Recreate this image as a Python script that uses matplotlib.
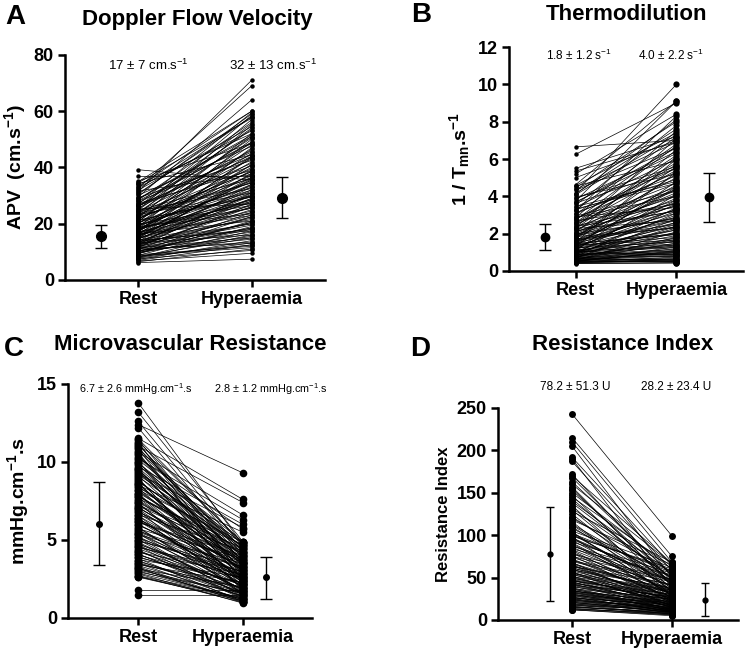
import matplotlib
matplotlib.use("Agg")
import matplotlib.pyplot as plt
import numpy as np

plt.rcParams['font.family'] = ['Liberation Sans', 'DejaVu Sans']
plt.rcParams['mathtext.default'] = 'regular'

# A: Doppler flow velocity (cm/s)
apv_rest = [6.2, 6.5, 7.0, 7.3, 7.8, 8.1, 8.4, 8.8, 9.0, 9.3,
            9.6, 10.0, 10.2, 10.5, 10.8, 11.0, 11.3, 11.5, 11.8, 12.0,
            12.2, 12.5, 12.7, 13.0, 13.2, 13.4, 13.7, 14.0, 14.2, 14.5,
            14.7, 15.0, 15.2, 15.4, 15.7, 16.0, 16.2, 16.5, 16.8, 17.0,
            17.3, 17.5, 17.8, 18.0, 18.3, 18.6, 18.9, 19.2, 19.5, 19.8,
            20.0, 20.4, 20.8, 21.1, 21.5, 21.8, 22.2, 22.5, 23.0, 23.4,
            23.8, 24.2, 24.7, 25.1, 25.6, 26.0, 26.5, 27.0, 27.4, 28.0,
            28.5, 29.0, 29.6, 30.2, 30.8, 31.4, 32.0, 32.7, 33.3, 34.0,
            34.6, 35.2, 37.0, 39.2, 7.6, 9.9, 12.9, 15.9, 19.0, 22.8,
            11.6, 14.9, 17.6, 20.6, 24.5, 13.5, 16.6, 10.6, 18.4, 26.8,
            6.8, 7.9, 8.6, 9.4, 10.3, 11.1, 11.9, 12.6, 13.3, 14.1,
            14.8, 15.5, 16.3, 17.1, 17.9, 18.7, 19.6, 20.2, 21.3, 22.0,
            22.9, 23.6, 24.4, 25.3, 26.2, 27.2, 28.2, 29.3, 30.5, 31.7,
            33.0, 34.3, 35.0, 8.3, 9.7, 11.4, 12.3, 13.8, 15.1, 16.4,
            17.2, 18.1, 19.4, 20.9, 21.9, 23.2, 24.9, 26.3, 28.8, 32.4]
apv_hyp = [7.4, 11.0, 12.5, 14.0, 13.2, 17.5, 15.0, 19.0, 12.0, 21.0,
           16.5, 24.0, 18.0, 14.5, 27.0, 20.5, 17.0, 31.0, 22.5, 19.5,
           25.0, 34.0, 23.0, 28.0, 16.0, 30.5, 38.0, 26.0, 21.5, 33.0,
           29.0, 36.0, 24.5, 41.0, 27.5, 32.0, 44.0, 30.0, 35.0, 25.5,
           39.0, 47.0, 31.5, 37.5, 28.5, 42.0, 50.0, 33.5, 40.0, 26.5,
           45.0, 36.5, 52.0, 30.0, 48.0, 38.5, 55.0, 34.5, 43.0, 57.0,
           41.5, 50.5, 36.0, 58.5, 46.0, 53.5, 40.5, 59.5, 49.0, 44.5,
           56.0, 51.5, 64.0, 47.5, 58.0, 71.0, 54.5, 69.0, 60.0, 52.0,
           57.5, 48.5, 37.0, 35.5, 10.5, 15.5, 22.0, 28.5, 23.5, 39.5,
           18.5, 26.5, 34.0, 29.5, 32.5, 20.0, 31.0, 13.5, 35.5, 43.5,
           9.5, 16.0, 11.5, 22.5, 18.5, 13.0, 26.0, 20.0, 30.0, 17.5,
           24.0, 35.5, 21.0, 28.0, 41.0, 25.5, 33.0, 46.5, 29.5, 38.5,
           51.0, 34.5, 44.0, 27.0, 55.5, 39.0, 48.5, 42.5, 59.0, 37.5,
           53.0, 44.5, 60.0, 12.5, 20.5, 15.0, 29.0, 18.0, 36.5, 23.0,
           43.5, 27.5, 32.0, 49.0, 37.0, 31.0, 54.0, 45.5, 51.0, 58.0]

# B: thermodilution 1/Tmn (1/s)
tmn_rest = [0.40, 0.42, 0.45, 0.48, 0.50, 0.52, 0.55, 0.58, 0.60, 0.63,
            0.65, 0.68, 0.70, 0.73, 0.76, 0.80, 0.83, 0.86, 0.90, 0.93,
            0.96, 1.00, 1.03, 1.07, 1.10, 1.14, 1.18, 1.22, 1.26, 1.30,
            1.34, 1.38, 1.42, 1.46, 1.50, 1.55, 1.60, 1.65, 1.70, 1.75,
            1.80, 1.86, 1.92, 1.98, 2.04, 2.10, 2.17, 2.24, 2.31, 2.38,
            2.45, 2.52, 2.60, 2.68, 2.76, 2.85, 2.94, 3.03, 3.12, 3.22,
            3.32, 3.42, 3.52, 3.63, 3.74, 3.85, 3.96, 4.08, 4.20, 4.32,
            4.45, 4.55, 4.62, 5.00, 5.20, 5.35, 5.50, 6.25, 6.65, 0.47,
            0.56, 0.66, 0.78, 0.88, 0.98, 1.12, 1.28, 1.44, 1.62, 1.84,
            2.06, 2.28, 2.56, 2.90, 3.28, 3.70, 4.15, 1.05, 0.72, 0.53,
            0.41, 0.44, 0.49, 0.54, 0.59, 0.62, 0.67, 0.71, 0.75, 0.81,
            0.85, 0.92, 0.97, 1.02, 1.09, 1.16, 1.24, 1.33, 1.40, 1.48,
            1.57, 1.67, 1.78, 1.89, 2.00, 2.13, 2.27, 2.41, 2.58, 2.73,
            2.88, 3.05, 3.25, 3.45, 3.66, 3.90, 4.12, 4.38, 4.58, 0.51,
            0.61, 0.74, 0.87, 1.01, 1.20, 1.39, 1.58, 1.95, 2.35, 2.80]
tmn_hyp = [0.42, 0.55, 0.60, 0.75, 1.30, 0.65, 1.00, 2.10, 0.80, 1.50,
           1.20, 2.80, 0.95, 1.70, 3.40, 1.10, 2.30, 1.40, 4.10, 1.90,
           2.60, 1.25, 3.00, 2.00, 4.80, 1.60, 2.40, 3.60, 2.20, 5.30,
           2.90, 1.80, 3.30, 4.40, 2.70, 6.00, 3.10, 3.90, 2.50, 4.60,
           5.60, 3.50, 4.20, 2.80, 6.50, 3.80, 5.00, 4.00, 7.10, 3.20,
           5.40, 4.50, 6.20, 3.60, 5.80, 7.50, 4.30, 6.80, 5.10, 8.30,
           4.70, 6.00, 7.80, 5.50, 9.10, 6.40, 5.20, 7.30, 10.00, 6.60,
           8.00, 5.90, 9.10, 7.00, 8.40, 6.90, 7.20, 9.00, 7.00, 0.55,
           0.70, 0.90, 1.60, 1.15, 2.50, 1.45, 3.20, 2.00, 3.70, 2.30,
           4.40, 2.70, 5.70, 3.40, 4.90, 6.30, 7.60, 0.85, 0.50, 1.05,
           0.45, 0.65, 1.10, 0.50, 1.80, 0.85, 0.60, 2.40, 1.00, 1.35,
           3.10, 0.90, 1.75, 2.20, 1.30, 3.80, 1.55, 2.60, 4.50, 1.95,
           3.30, 2.35, 5.20, 2.85, 4.10, 3.25, 6.10, 3.60, 4.70, 6.70,
           4.00, 5.50, 7.20, 4.80, 6.60, 5.60, 8.10, 6.90, 7.40, 0.48,
           0.58, 0.78, 1.05, 1.40, 2.05, 1.65, 2.75, 3.50, 4.30, 5.30]

# C: microvascular resistance (mmHg.cm-1.s)
mvr_rest = [1.50, 1.80, 2.62, 2.71, 2.83, 2.95, 3.02, 3.14, 3.21, 3.36,
            3.42, 3.51, 3.63, 3.74, 3.82, 3.93, 4.04, 4.12, 4.23, 4.31,
            4.44, 4.52, 4.61, 4.73, 4.85, 4.92, 5.03, 5.14, 5.22, 5.35,
            5.41, 5.53, 5.64, 5.72, 5.81, 5.95, 6.02, 6.13, 6.24, 6.32,
            6.41, 6.55, 6.63, 6.72, 6.84, 6.91, 7.05, 7.12, 7.23, 7.34,
            7.42, 7.51, 7.65, 7.73, 7.82, 7.94, 8.03, 8.15, 8.21, 8.33,
            8.45, 8.52, 8.61, 8.74, 8.83, 8.92, 9.04, 9.13, 9.25, 9.32,
            9.41, 9.55, 9.63, 9.71, 9.84, 9.93, 10.02, 10.14, 10.22, 10.35,
            10.43, 10.52, 10.64, 10.71, 10.85, 10.93, 11.02, 11.12, 11.24, 11.31,
            11.42, 11.53, 12.20, 12.40, 12.60, 13.20, 13.80, 2.65, 3.55, 4.25,
            2.68, 2.88, 3.08, 3.28, 3.48, 3.68, 3.88, 4.08, 4.38, 4.58,
            4.78, 4.98, 5.18, 5.38, 5.58, 5.78, 5.98, 6.18, 6.38, 6.58,
            6.78, 6.98, 7.18, 7.38, 7.58, 7.78, 7.98, 8.18, 8.38, 8.58,
            8.78, 8.98, 9.18, 9.38, 9.58, 9.78, 9.98, 10.28, 10.58, 10.88,
            11.18, 11.48, 3.18, 4.68, 5.48, 6.28, 7.08, 7.88, 8.68, 9.48]
mvr_hyp = [1.50, 1.80, 1.10, 1.30, 0.95, 1.60, 1.20, 2.00, 1.00, 1.40,
           2.30, 1.15, 1.70, 2.60, 1.05, 1.90, 2.20, 1.35, 2.80, 1.55,
           2.10, 3.00, 1.25, 2.50, 1.85, 3.30, 1.45, 2.70, 2.05, 3.50,
           1.65, 2.90, 2.35, 3.80, 1.75, 3.10, 2.45, 4.00, 2.15, 3.40,
           1.95, 2.75, 4.30, 2.55, 3.20, 1.50, 3.60, 2.85, 4.50, 2.25,
           3.70, 3.05, 4.70, 2.40, 3.90, 1.80, 4.10, 3.25, 4.85, 2.65,
           3.45, 5.50, 2.95, 4.20, 3.75, 2.00, 4.60, 3.15, 5.80, 3.55,
           4.40, 2.50, 3.95, 6.00, 3.35, 4.75, 2.80, 4.90, 6.30, 3.65,
           4.15, 3.00, 6.60, 4.45, 2.30, 3.85, 7.40, 4.05, 2.60, 4.80,
           3.50, 7.60, 4.25, 9.30, 4.55, 4.90, 4.70, 1.20, 1.60, 2.10,
           1.00, 1.25, 1.55, 1.10, 1.90, 1.40, 2.25, 1.60, 1.20, 2.55,
           1.85, 2.95, 1.35, 2.40, 3.25, 1.70, 2.70, 3.55, 2.10, 1.45,
           3.85, 2.60, 4.15, 1.90, 3.05, 4.40, 2.35, 3.60, 4.65, 2.85,
           3.95, 1.75, 4.85, 3.30, 2.45, 4.55, 3.70, 5.70, 2.90, 4.25,
           3.40, 4.80, 1.05, 1.65, 2.15, 2.50, 3.15, 3.50, 2.20, 4.05]

# D: resistance index (U)
ri_rest = [12, 13, 14, 15, 16, 17, 18, 19, 20, 21,
           22, 23, 24, 25, 26, 27, 28, 29, 30, 31,
           32, 33, 34, 35, 36, 37, 38, 40, 41, 42,
           43, 44, 45, 46, 47, 48, 50, 51, 52, 54,
           55, 56, 58, 59, 60, 62, 63, 65, 66, 68,
           70, 72, 74, 76, 78, 80, 82, 84, 86, 88,
           90, 92, 94, 96, 98, 100, 101, 103, 105, 110,
           113, 116, 118, 122, 125, 128, 132, 135, 140, 143,
           147, 150, 153, 157, 160, 168, 172, 187, 190, 192,
           205, 210, 215, 243, 25, 33, 47, 64, 95, 102,
           12, 13, 15, 16, 18, 19, 21, 22, 24, 26,
           27, 29, 30, 32, 34, 35, 37, 39, 41, 43,
           45, 47, 49, 51, 53, 56, 57, 60, 61, 64,
           67, 69, 71, 75, 79, 83, 87, 91, 97, 99,
           104, 108, 112, 120, 130, 138, 145, 155, 163, 170]
ri_hyp = [5, 7, 6, 9, 8, 12, 7, 10, 14, 9,
          11, 16, 8, 13, 18, 10, 15, 12, 20, 9,
          17, 14, 22, 11, 19, 25, 13, 16, 28, 21,
          12, 24, 18, 30, 15, 26, 20, 33, 17, 23,
          35, 14, 28, 38, 19, 25, 42, 22, 31, 16,
          45, 27, 36, 20, 48, 30, 24, 52, 34, 40,
          26, 55, 32, 44, 21, 58, 38, 29, 62, 35,
          46, 25, 65, 42, 33, 68, 50, 28, 55, 44,
          36, 60, 48, 40, 66, 52, 45, 58, 38, 64,
          50, 68, 75, 99, 11, 18, 26, 35, 47, 56,
          6, 8, 10, 7, 11, 13, 9, 15, 12, 17,
          10, 19, 14, 13, 21, 16, 11, 24, 18, 27,
          15, 22, 30, 19, 34, 24, 17, 29, 37, 21,
          32, 41, 26, 47, 23, 36, 53, 31, 45, 60,
          28, 50, 39, 57, 34, 48, 63, 42, 54, 67]

# summary points: [mean, low, high] for rest and hyperaemia
apv_summary = [[15.5, 11.3, 19.5], [29.2, 21.9, 36.6]]
tmn_summary = [[1.8, 1.1, 2.5], [3.95, 2.65, 5.25]]
mvr_summary = [[6.05, 3.4, 8.75], [2.6, 1.25, 3.9]]
ri_summary = [[78, 22, 133], [24, 5, 44]]

W, H = 747, 654
fig = plt.figure(figsize=(W / 100, H / 100), dpi=100)


def box(l, t, r, b):
    return [l / W, 1 - b / H, (r - l) / W, (b - t) / H]


def ftext(x, y, s, **kw):
    fig.text(x / W, 1 - y / H, s, ha='center', va='center', **kw)


def panel(rect, rest, hyp, summ, sx, xlim, ylim, yticks, ms0, ms1, mss, cap):
    ax = fig.add_axes(box(*rect))
    n = len(rest)
    ax.plot(np.vstack([np.zeros(n), np.ones(n)]), np.vstack([rest, hyp]),
            color='k', lw=0.5)
    ax.plot(np.zeros(n), rest, 'o', color='k', ms=ms0, mew=0)
    ax.plot(np.ones(n), hyp, 'o', color='k', ms=ms1, mew=0)
    for xx, (m, lo, hi) in zip(sx, summ):
        ax.errorbar([xx], [m], yerr=[[m - lo], [hi - m]], fmt='o', color='k',
                    ms=mss, capsize=cap, elinewidth=1.0, capthick=1.0)
    ax.set_xlim(*xlim)
    ax.set_ylim(*ylim)
    ax.set_yticks(yticks)
    ax.set_xticks([0, 1])
    ax.set_xticklabels(['Rest', 'Hyperaemia'], fontsize=13, fontweight='bold')
    for lb in ax.get_yticklabels():
        lb.set_fontsize(13)
        lb.set_fontweight('bold')
    for s in ['top', 'right']:
        ax.spines[s].set_visible(False)
    for s in ['left', 'bottom']:
        ax.spines[s].set_linewidth(1.8)
    ax.tick_params(width=1.8, length=5, pad=3)
    return ax


axA = panel((65, 55, 325, 280), apv_rest, apv_hyp, apv_summary, [-0.33, 1.27],
            (-0.65, 1.65), (0, 80), [0, 20, 40, 60, 80], 3.2, 3.2, 7, 4)
axA.set_ylabel('APV  (cm.s$^{-1}$)', fontsize=14, fontweight='bold')

axB = panel((509, 47, 743, 271), tmn_rest, tmn_hyp, tmn_summary, [-0.30, 1.32],
            (-0.66, 1.66), (0, 12), list(range(0, 13, 2)), 3.2, 4.5, 6, 4)
axB.set_ylabel('1 / T$_{mn}$.s$^{-1}$', fontsize=14, fontweight='bold')

axC = panel((68, 384, 312, 618), mvr_rest, mvr_hyp, mvr_summary, [-0.37, 1.22],
            (-0.67, 1.66), (0, 15), [0, 5, 10, 15], 5.5, 5.5, 4, 4)
axC.set_ylabel('mmHg.cm$^{-1}$.s', fontsize=14, fontweight='bold')

axD = panel((498, 408, 738, 620), ri_rest, ri_hyp, ri_summary, [-0.22, 1.33],
            (-0.74, 1.66), (0, 250), [0, 50, 100, 150, 200, 250], 5.0, 5.0, 3.5, 3)
axD.set_ylabel('Resistance Index', fontsize=12, fontweight='bold')

# titles and panel letters
ftext(15, 17, 'A', fontsize=20, fontweight='bold')
ftext(197, 20, 'Doppler Flow Velocity', fontsize=16, fontweight='bold')
ftext(421, 15, 'B', fontsize=20, fontweight='bold')
ftext(626, 15, 'Thermodilution', fontsize=16, fontweight='bold')
ftext(14, 349, 'C', fontsize=20, fontweight='bold')
ftext(190, 344, 'Microvascular Resistance', fontsize=16, fontweight='bold')
ftext(420, 349, 'D', fontsize=20, fontweight='bold')
ftext(623, 344, 'Resistance Index', fontsize=16, fontweight='bold')

# mean +/- sd annotations
ftext(148, 65, '17 ± 7 cm.s$^{-1}$', fontsize=9.5)
ftext(273, 65, '32 ± 13 cm.s$^{-1}$', fontsize=9.5)
ftext(579, 55, '1.8 ± 1.2 s$^{-1}$', fontsize=8.5)
ftext(671, 55, '4.0 ± 2.2 s$^{-1}$', fontsize=8.5)
ftext(136, 389, '6.7 ± 2.6 mmHg.cm$^{-1}$.s', fontsize=7.8)
ftext(271, 389, '2.8 ± 1.2 mmHg.cm$^{-1}$.s', fontsize=7.8)
ftext(575, 387, '78.2 ± 51.3 U', fontsize=8.5)
ftext(676, 387, '28.2 ± 23.4 U', fontsize=8.5)

fig.savefig('out.png', dpi=100)
